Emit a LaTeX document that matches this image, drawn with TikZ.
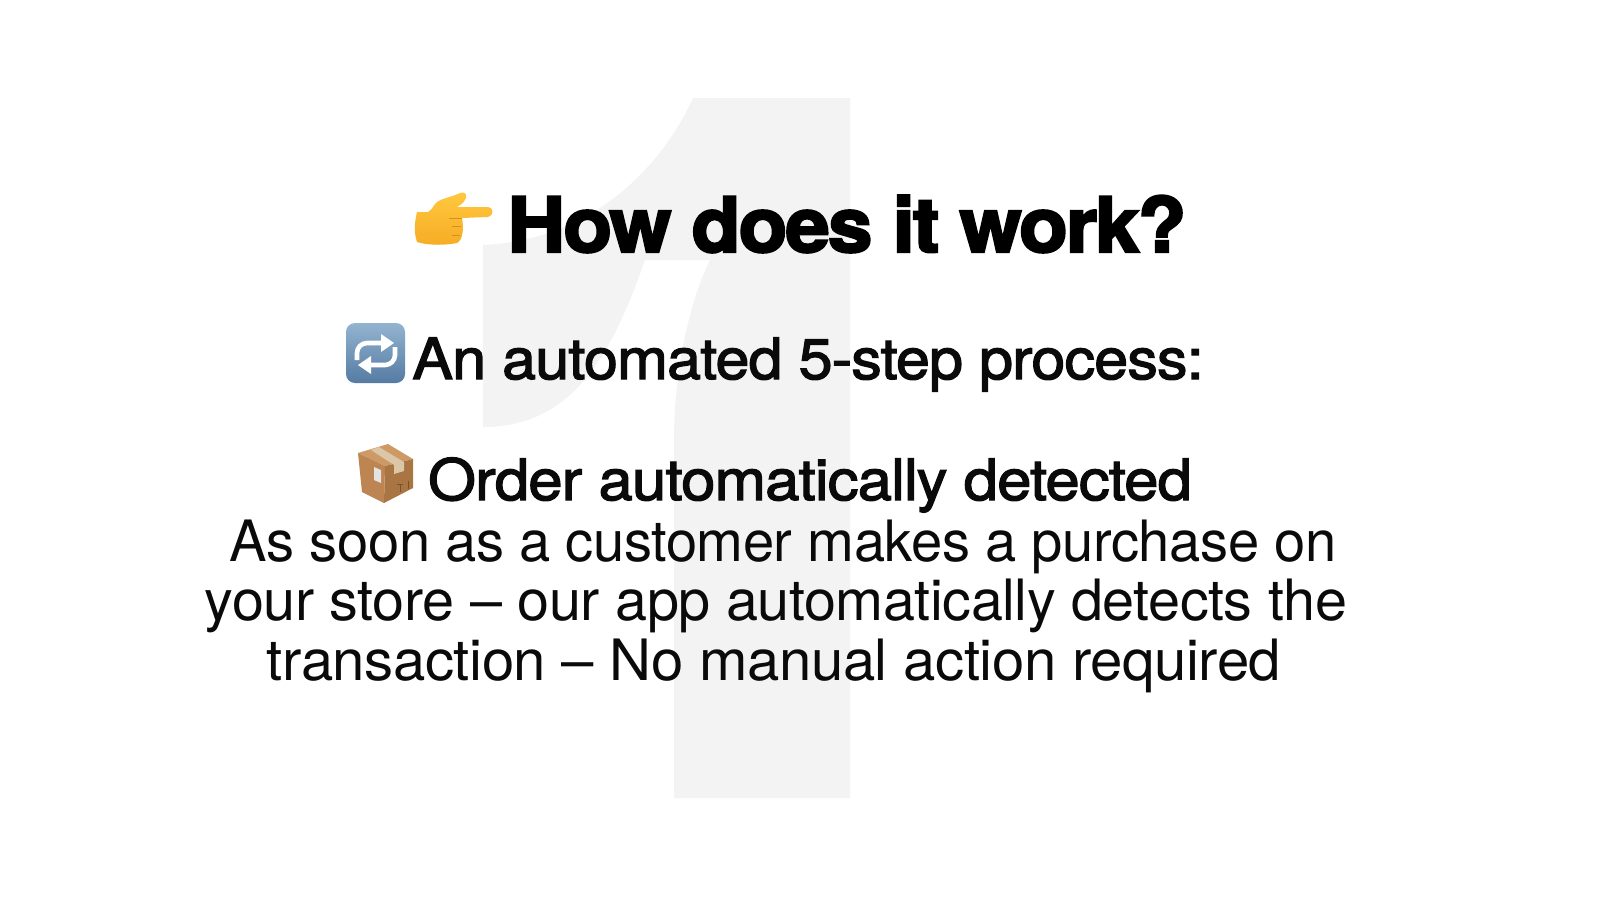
\documentclass[tikz,border=0pt]{standalone}
\usepackage{fontspec}
\setmainfont{TeX Gyre Heros}
\newfontfamily\titlefont[FakeBold=3,FakeStretch=1.05,LetterSpace=-2.5]{TeX Gyre Heros Bold}
\newfontfamily\headfont[FakeBold=2.2,FakeStretch=1.07,LetterSpace=-1.4]{TeX Gyre Heros}
\newfontfamily\bodyfont[FakeStretch=1.01,LetterSpace=-0.8]{TeX Gyre Heros}
\definecolor{ghostgray}{HTML}{F3F3F3}
\definecolor{inkblack}{HTML}{0A0A0A}
\definecolor{handyellow}{HTML}{FFC83F}
\definecolor{handorange}{HTML}{F6AC24}
\definecolor{repeattop}{HTML}{93B4D0}
\definecolor{repeatlow}{HTML}{557BA3}
\definecolor{boxbrown}{HTML}{BC8552}
\definecolor{boxdark}{HTML}{A87543}
\definecolor{boxlight}{HTML}{CD9A66}
\definecolor{tapetan}{HTML}{DCC6A8}
\tikzset{
  titletext/.style={anchor=base,inner sep=0pt,text=black,font=\titlefont\fontsize{38}{38}\selectfont},
  headtext/.style={anchor=base,inner sep=0pt,text=inkblack,font=\headfont\fontsize{28.5}{28.5}\selectfont},
  bodytext/.style={anchor=base,inner sep=0pt,text=inkblack,font=\bodyfont\fontsize{28.5}{28.5}\selectfont},
}
\begin{document}
\begin{tikzpicture}[x=0.5pt,y=-0.5pt]
  \useasboundingbox (0,0) rectangle (1600,900);

  % Big numeral behind the text
  \fill[ghostgray] (693,98) -- (850,98) -- (850,798) -- (674,798) -- (674,440)
    .. controls (674,370) and (690,300) .. (710,260) -- (645,260)
    .. controls (610,360) and (570,427) .. (483,427) -- (483,245)
    .. controls (590,240) and (660,170) .. (693,98) -- cycle;

  % Pointing hand
  \shade[top color=handyellow,bottom color=handorange] (417,212)
    .. controls (414,225) and (414,232) .. (417,242)
    .. controls (430,246) and (447,245) .. (457,243)
    .. controls (463,240) and (464,228) .. (462,218) -- (488,217)
    .. controls (494,216) and (494,207) .. (488,207) -- (457,207)
    .. controls (463,204) and (467,199) .. (466,195)
    .. controls (465,192) and (462,192) .. (460,193)
    .. controls (450,198) and (440,198) .. (435,204)
    .. controls (432,208) and (431,211) .. (428,212) -- cycle;
  \draw[handorange!85!black,line width=0.3pt] (462,218) -- (449,218) (461,226) -- (452,226) (460,235) -- (452,235);

  % Repeat button
  \shade[top color=repeattop,bottom color=repeatlow,rounded corners=4.5pt]
    (346,323) rectangle (405,383);
  \draw[white,line width=2.3pt,rounded corners=5pt] (357,360) -- (357,343) -- (384,343);
  \draw[white,line width=2.3pt,rounded corners=5pt] (395,347) -- (395,365) -- (370,365);
  \fill[white] (394,343) -- (381,334) -- (381,352) -- cycle;
  \fill[white] (358,365) -- (371,356) -- (371,374) -- cycle;

  % Parcel
  \fill[boxlight] (388,444) -- (413,459) -- (385,466) -- (358,453) -- cycle;
  \fill[boxbrown] (358,453) -- (385,466) -- (384,503) -- (362,492) -- cycle;
  \fill[boxdark] (385,466) -- (413,459) -- (413,488) -- (384,503) -- cycle;
  \fill[tapetan] (371,450) -- (379,447) -- (404,462) -- (404,471) -- (394,474) -- (394,465) -- cycle;
  \fill[white!78!gray] (374,467) -- (381,470) -- (381,483) -- (374,480) -- cycle;
  \draw[boxdark!70!black,line width=0.5pt] (400,484) -- (400,492) (397,484) -- (403,484) (408,481) -- (408,489);

  % Text lines
  \node[titletext] (title) at (847,252) {How does it work?};
  \node[headtext] (steps) at (808,379) {An automated 5-step process:};
  \node[headtext] (order) at (810,500) {\scalebox{1.01}[1]{Order automatically detected}};
  \node[bodytext] (lineone) at (783,561) {\scalebox{0.975}[1]{As soon as a customer makes a purchase on}};
  \node[bodytext] (linetwo) at (776,620) {your store – our app automatically detects the};
  \node[bodytext] (linethree) at (774,680) {\scalebox{1.01}[1]{transaction – No manual action required}};
\end{tikzpicture}
\end{document}
